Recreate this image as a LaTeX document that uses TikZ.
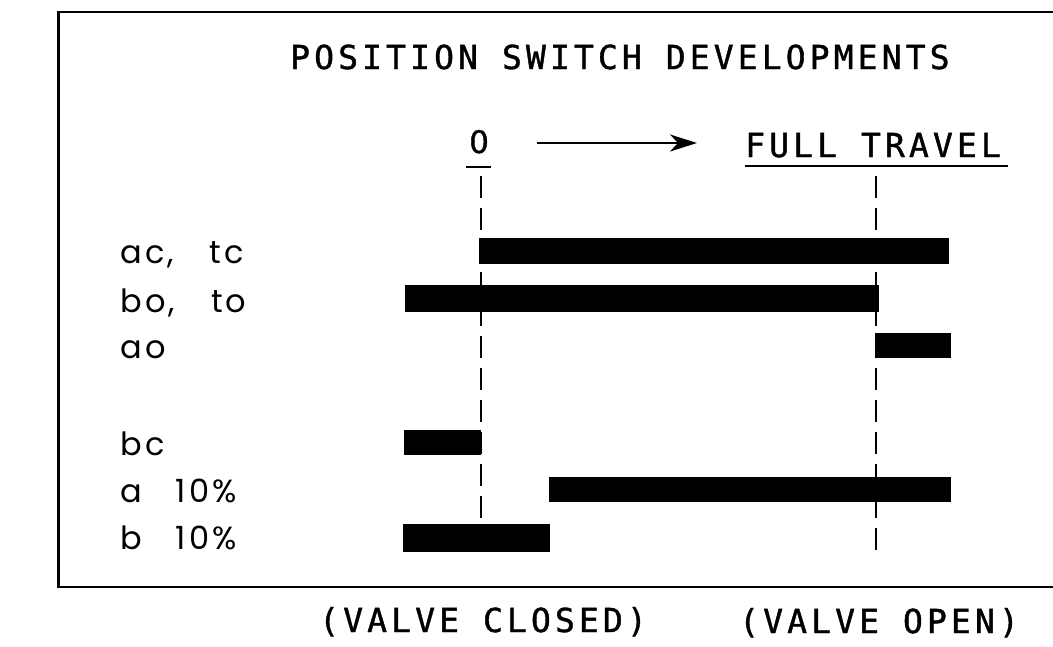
\documentclass[tikz,border=0pt]{standalone}
\usepackage{fontspec}
\usetikzlibrary{arrows.meta}
\newfontfamily\cadfont[LetterSpace=12.5,FakeBold=1.2]{DejaVu Sans Mono}
\newfontfamily\zerofont[FakeBold=1.2]{DejaVu Sans}
\newfontfamily\labfont[LetterSpace=10]{Poppins}
\begin{document}
\begin{tikzpicture}[x=1pt,y=-1pt,
  cadtext/.style={inner sep=0pt,anchor=base west,font=\cadfont\fontsize{33}{33}\selectfont},
  zerotext/.style={inner sep=0pt,anchor=base west,font=\zerofont\fontsize{31}{31}\selectfont},
  labtext/.style={inner sep=0pt,anchor=base west,font=\labfont\fontsize{32}{32}\selectfont},
  bar/.style={fill=black},
  frameline/.style={line width=2.6pt},
  uline/.style={line width=2pt},
  travel/.style={line width=2.6pt,dash pattern=on 22pt off 10pt},
  arrowline/.style={line width=2.4pt,-{Stealth[length=27pt,width=17pt,inset=8pt]}}]
\useasboundingbox (0,0) rectangle (1053,646);
% frame (open to the right)
\draw[frameline] (1060,12) -- (58.5,12) -- (58.5,587) -- (1060,587);
% headings
\node[cadtext] (title) at (290,69) {POSITION SWITCH DEVELOPMENTS};
\node[zerotext] (zero) at (469,153) {0};
\node[cadtext] (full) at (745,157) {FULL TRAVEL};
\draw[uline] (466,167) -- (491,167);
\draw[uline] (745,166) -- (1008,166);
\coordinate (arrS) at (537,143);
\coordinate (arrE) at (697,143);
\draw[arrowline] (arrS) -- (arrE);
% travel limit lines
\coordinate (closedTop) at (481,176);
\coordinate (closedBot) at (481,550);
\coordinate (openTop) at (876,176);
\coordinate (openBot) at (876,550);
\draw[travel] (closedTop) -- (closedBot);
\draw[travel] (openTop) -- (openBot);
% labels
\node[labtext] (l1) at (120,263) {ac,\hspace{36pt}tc};
\node[labtext] (l2) at (120,312) {bo,\hspace{36pt}to};
\node[labtext] (l3) at (120,358) {ao};
\node[labtext] (l4) at (120,455) {bc};
\node[labtext] (l5) at (120,502) {a\hspace{34pt}10\%};
\node[labtext] (l6) at (120,549) {b\hspace{34pt}10\%};
% bars
\fill[bar] (479,238) rectangle (949,264);
\fill[bar] (405,285) rectangle (879,312);
\fill[bar] (875,333) rectangle (951,358);
\fill[bar] (404,430) rectangle (481,455);
\fill[bar] (549,477) rectangle (951,502);
\fill[bar] (403,524) rectangle (550,552);
% bottom captions
\node[cadtext] (closed) at (319,632) {(VALVE CLOSED)};
\node[cadtext] (open) at (739,633) {(VALVE OPEN)};
\end{tikzpicture}
\end{document}
